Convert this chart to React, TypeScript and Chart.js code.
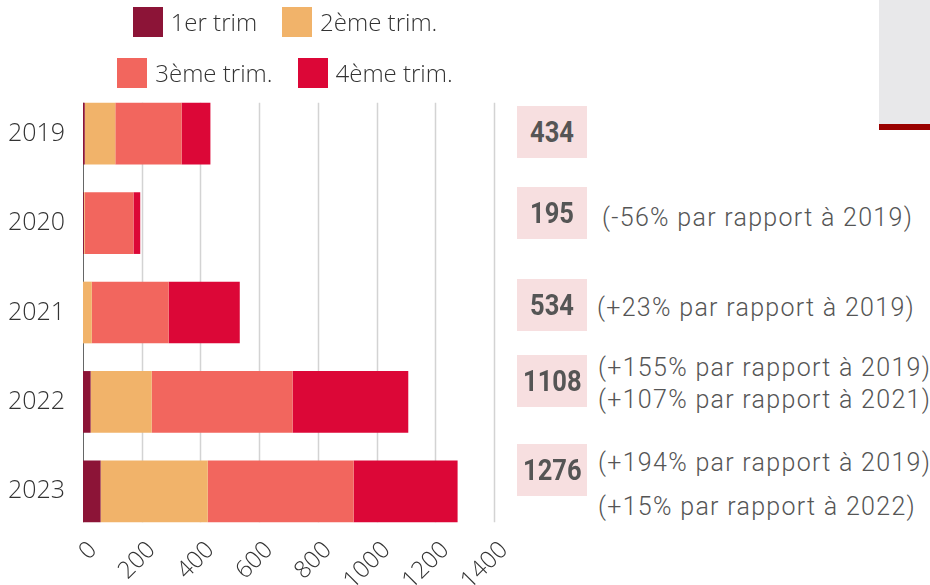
import React, { useEffect, useRef } from "react";
import { Chart, registerables } from "chart.js";

Chart.register(...registerables);

// ---- data ----
const years = ["2019", "2020", "2021", "2022", "2023"];
const seriesLabels = ["1er trim", "2ème trim.", "3ème trim.", "4ème trim."];
const q1 = [6, 3, 0, 26, 60];
const q2 = [104, 3, 30, 208, 365];
const q3 = [226, 166, 262, 480, 497];
const q4 = [98, 23, 242, 394, 354];
const seriesColors = ["#8c1437", "#f1b36a", "#f2665e", "#dc0737"];
const xMin = 0;
const xMax = 1400;
const xStep = 200;
const totals = ["434", "195", "534", "1108", "1276"];
const notes: string[][] = [
  [],
  ["(-56% par rapport à 2019)"],
  ["(+23% par rapport à 2019)"],
  ["(+155% par rapport à 2019)", "(+107% par rapport à 2021)"],
  ["(+194% par rapport à 2019)", "(+15% par rapport à 2022)"],
];

// ---- layout (not data) ----
const boxTops = [106, 187, 279, 355, 444];
const noteLefts = [0, 602, 597, 598, 598];
const noteCenters: number[][] = [[], [218], [308], [368, 400], [463, 507]];

const gridPlugin = {
  id: "customGrid",
  beforeDatasetsDraw(chart: any) {
    const { ctx, scales } = chart;
    const x = scales.x;
    const meta = chart.getDatasetMeta(0);
    const first = meta.data[0];
    const last = meta.data[meta.data.length - 1];
    if (!first || !last) return;
    const top = first.y - first.height / 2;
    const bottom = last.y + last.height / 2;
    ctx.save();
    x.ticks.forEach((t: any) => {
      const px = Math.round(x.getPixelForValue(t.value)) + 0.5;
      ctx.beginPath();
      if (t.value === 0) {
        ctx.strokeStyle = "#666666";
        ctx.lineWidth = 1;
      } else {
        ctx.strokeStyle = "#d3d3d3";
        ctx.lineWidth = 1.5;
      }
      ctx.moveTo(px, top);
      ctx.lineTo(px, bottom);
      ctx.stroke();
    });
    ctx.restore();
  },
};

function ChartCanvas() {
  const ref = useRef<HTMLCanvasElement | null>(null);
  useEffect(() => {
    if (!ref.current) return;
    const series = [q1, q2, q3, q4];
    const chart = new Chart(ref.current, {
      type: "bar",
      data: {
        labels: years,
        datasets: series.map((d, i) => ({
          label: seriesLabels[i],
          data: d,
          backgroundColor: seriesColors[i],
          borderWidth: 0,
          barPercentage: 0.69,
          categoryPercentage: 1,
        })),
      },
      options: {
        indexAxis: "y",
        animation: false,
        responsive: false,
        maintainAspectRatio: false,
        layout: { padding: { top: 89, right: 66, left: 0, bottom: 0 } },
        plugins: { legend: { display: false }, tooltip: { enabled: false } },
        scales: {
          x: {
            stacked: true,
            min: xMin,
            max: xMax,
            grid: { display: false, drawTicks: false },
            border: { display: false },
            ticks: {
              stepSize: xStep,
              minRotation: 45,
              maxRotation: 45,
              padding: 0,
              labelOffset: 10,
              autoSkip: false,
              color: "#333333",
              font: { family: "'Open Sans'", size: 24, weight: "300" },
              callback: (v: any) => String(v),
            },
            afterFit(scale: any) {
              scale.height = 49;
            },
          },
          y: {
            stacked: true,
            grid: { display: false, drawTicks: false },
            border: { display: false },
            ticks: {
              padding: 18,
              color: "#333333",
              font: { family: "'Open Sans'", size: 25, weight: "300" },
            },
            afterFit(scale: any) {
              scale.width = 83;
            },
          },
        },
      },
      plugins: [gridPlugin],
    } as any);
    return () => chart.destroy();
  }, []);
  return (
    <canvas
      ref={ref}
      width={560}
      height={585}
      style={{ position: "absolute", left: 0, top: 0, width: 560, height: 585 }}
    />
  );
}

export default function App() {
  const legendRows = [
    [0, 1],
    [2, 3],
  ];
  return (
    <div
      style={{
        position: "absolute",
        left: 0,
        top: 0,
        width: 930,
        height: 585,
        background: "#ffffff",
        overflow: "hidden",
      }}
    >
      <ChartCanvas />
      {legendRows.map((row, r) => (
        <div
          key={r}
          style={{
            position: "absolute",
            left: 0,
            width: 570,
            top: r === 0 ? 7 : 58,
            height: 30,
            display: "flex",
            justifyContent: "center",
            gap: 25,
          }}
        >
          {row.map((i) => (
            <div key={i} style={{ display: "flex", alignItems: "center" }}>
              <span
                style={{
                  display: "inline-block",
                  width: 30,
                  height: 30,
                  background: seriesColors[i],
                  marginRight: 8,
                }}
              />
              <span
                style={{
                  fontFamily: "'Open Sans'",
                  fontWeight: 300,
                  fontSize: 24,
                  color: "#333333",
                  lineHeight: "30px",
                  whiteSpace: "nowrap",
                }}
              >
                {seriesLabels[i]}
              </span>
            </div>
          ))}
        </div>
      ))}
      {totals.map((t, i) => (
        <div
          key={"b" + i}
          style={{
            position: "absolute",
            left: 517,
            top: boxTops[i],
            width: 70,
            height: 52,
            background: "#f7dfe0",
            display: "flex",
            alignItems: "center",
            justifyContent: "center",
            fontFamily: "Roboto",
            fontWeight: 700,
            fontSize: 29,
            color: "#555555",
          }}
        >
          <span style={{ display: "inline-block", transform: "scaleX(0.88)" }}>{t}</span>
        </div>
      ))}
      {notes.map((lines, i) =>
        lines.map((line, j) => (
          <div
            key={"n" + i + "-" + j}
            style={{
              position: "absolute",
              left: noteLefts[i],
              top: noteCenters[i][j] - 16,
              height: 32,
              lineHeight: "32px",
              fontFamily: "Roboto",
              fontWeight: 300,
              fontSize: 25,
              letterSpacing: 1.3,
              color: "#555555",
              whiteSpace: "nowrap",
            }}
          >
            {line}
          </div>
        ))
      )}
      <div
        style={{
          position: "absolute",
          left: 879,
          top: 0,
          width: 51,
          height: 124,
          background: "#e8e8ea",
        }}
      />
      <div
        style={{
          position: "absolute",
          left: 879,
          top: 124,
          width: 51,
          height: 6,
          background: "#990000",
        }}
      />
    </div>
  );
}
